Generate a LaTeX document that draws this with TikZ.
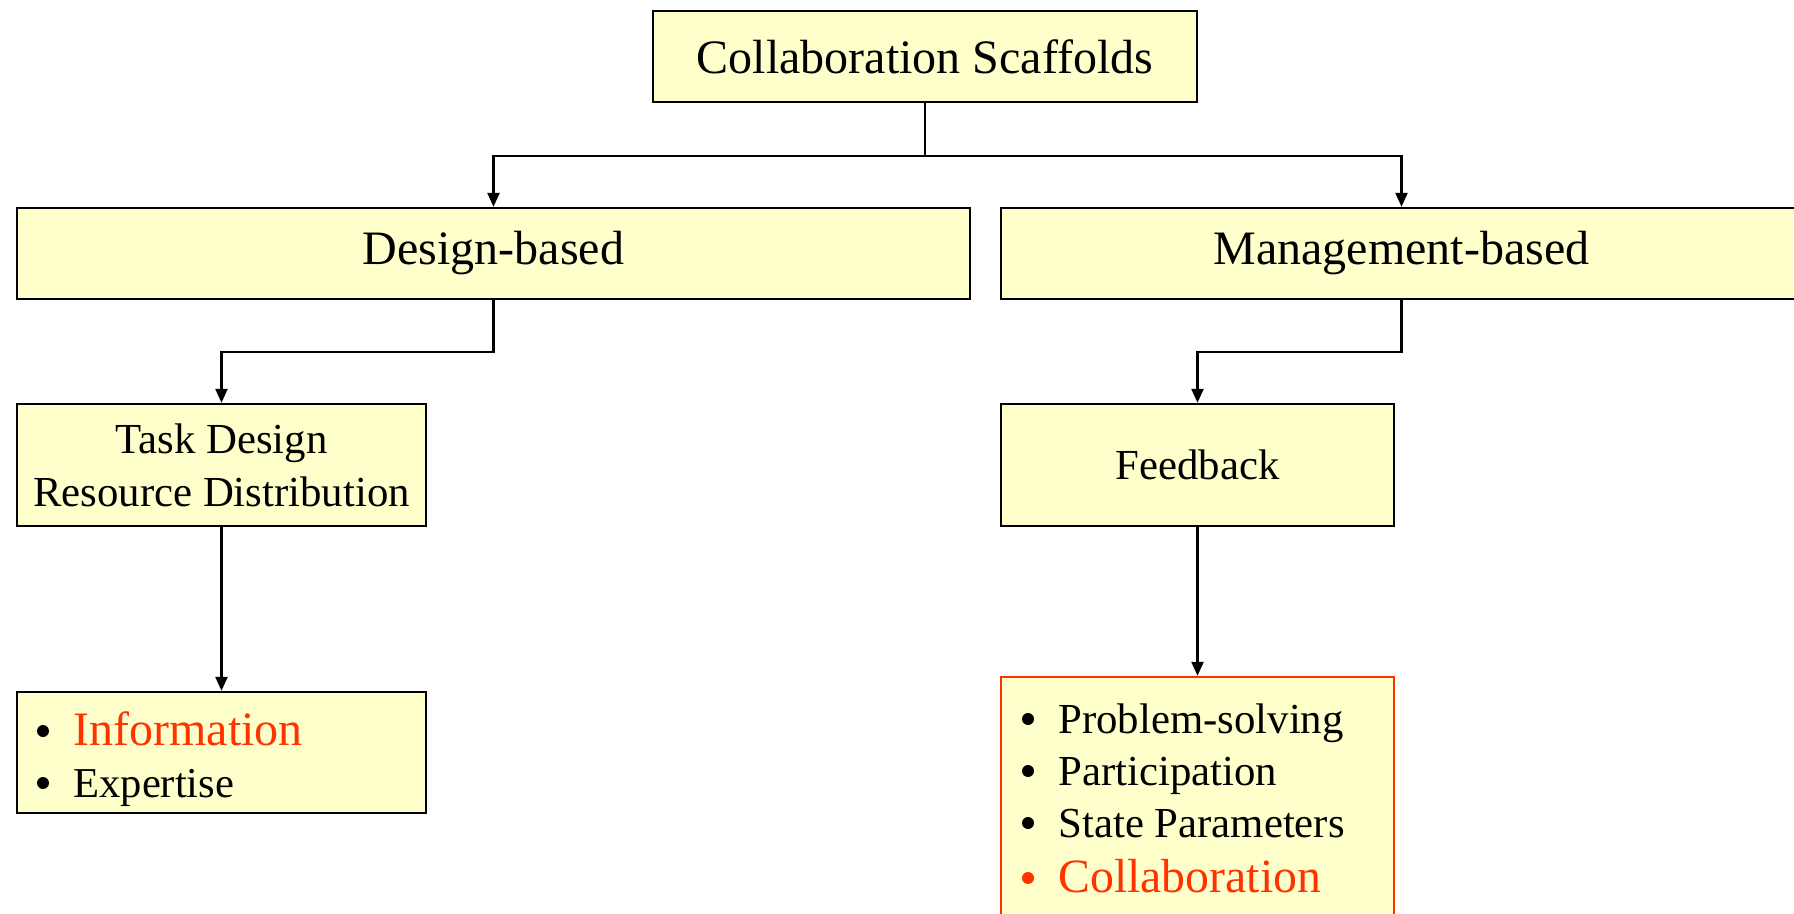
\documentclass[tikz,border=0pt]{standalone}
\usepackage{fontspec}
\setmainfont{Liberation Serif}
\usetikzlibrary{arrows.meta}
\definecolor{boxfill}{RGB}{255,255,204}
\definecolor{hilite}{RGB}{255,51,0}

\begin{document}
\begin{tikzpicture}[x=0.5pt,y=-0.5pt]
    \tikzstyle{box}=[draw=black,line width=1.2pt,fill=boxfill,inner sep=0pt,align=center]
    \tikzstyle{link}=[line width=1.2pt,-{Triangle[length=7pt,width=6pt]}]
    \tikzstyle{item}=[anchor=base west,inner sep=0pt]

    \path[use as bounding box,clip] (0,0) rectangle (1794,914);

    \node[box,minimum width=272pt,minimum height=45.5pt,font=\fontsize{24}{28}\selectfont] at (925,56.5) (top) {Collaboration Scaffolds};
    \node[box,minimum width=476.5pt,minimum height=45.5pt,font=\fontsize{24}{28}\selectfont] at (493.5,253.5) (design) {Design-based};
    \node[box,minimum width=400.5pt,minimum height=45.5pt,font=\fontsize{24}{28}\selectfont] at (1401.5,253.5) (manage) {Management-based};
    \node[box,minimum width=204.5pt,minimum height=61pt,font=\fontsize{21.4}{26.5}\selectfont] at (221.5,465) (task) {Task Design\\Resource Distribution};
    \node[box,minimum width=196.5pt,minimum height=61pt,font=\fontsize{21.4}{26.5}\selectfont] at (1197.5,465) (feedback) {Feedback};
    \node[box,minimum width=204.5pt,minimum height=60.5pt] at (221.5,752.5) (info) {};
    \node[box,draw=hilite,minimum width=196.5pt,minimum height=136.5pt] at (1197.5,813.5) (collab) {};

    \node[item,text=hilite,font=\fontsize{24}{24}\selectfont] at (73,745) (info1) {Information};
    \node[item,font=\fontsize{21.3}{24}\selectfont] at (73,797) (info2) {Expertise};

    \node[item,font=\fontsize{21.4}{24}\selectfont] at (1058,733) (collab1) {Problem-solving};
    \node[item,font=\fontsize{21.4}{24}\selectfont] at (1058,785) (collab2) {Participation};
    \node[item,font=\fontsize{21.4}{24}\selectfont] at (1058,837) (collab3) {State Parameters};
    \node[item,text=hilite,font=\fontsize{23.9}{24}\selectfont] at (1058,892) (collab4) {Collaboration};

    % bullets
    \foreach \n in {info1,info2,collab1,collab2,collab3}
        \fill ([shift={(-30,-14)}]\n.base west) circle (3pt);
    \fill[hilite] ([shift={(-30,-14)}]collab4.base west) circle (3pt);

    \draw[link] (top.south) -- ++(0,53) -| (design.north);
    \draw[link] (top.south) -- ++(0,53) -| (manage.north);
    \draw[link] (design.south) -- ++(0,52) -| (task.north);
    \draw[link] (manage.south) -- ++(0,52) -| (feedback.north);
    \draw[link] (task) -- (info);
    \draw[link] (feedback) -- (collab);
\end{tikzpicture}
\end{document}
